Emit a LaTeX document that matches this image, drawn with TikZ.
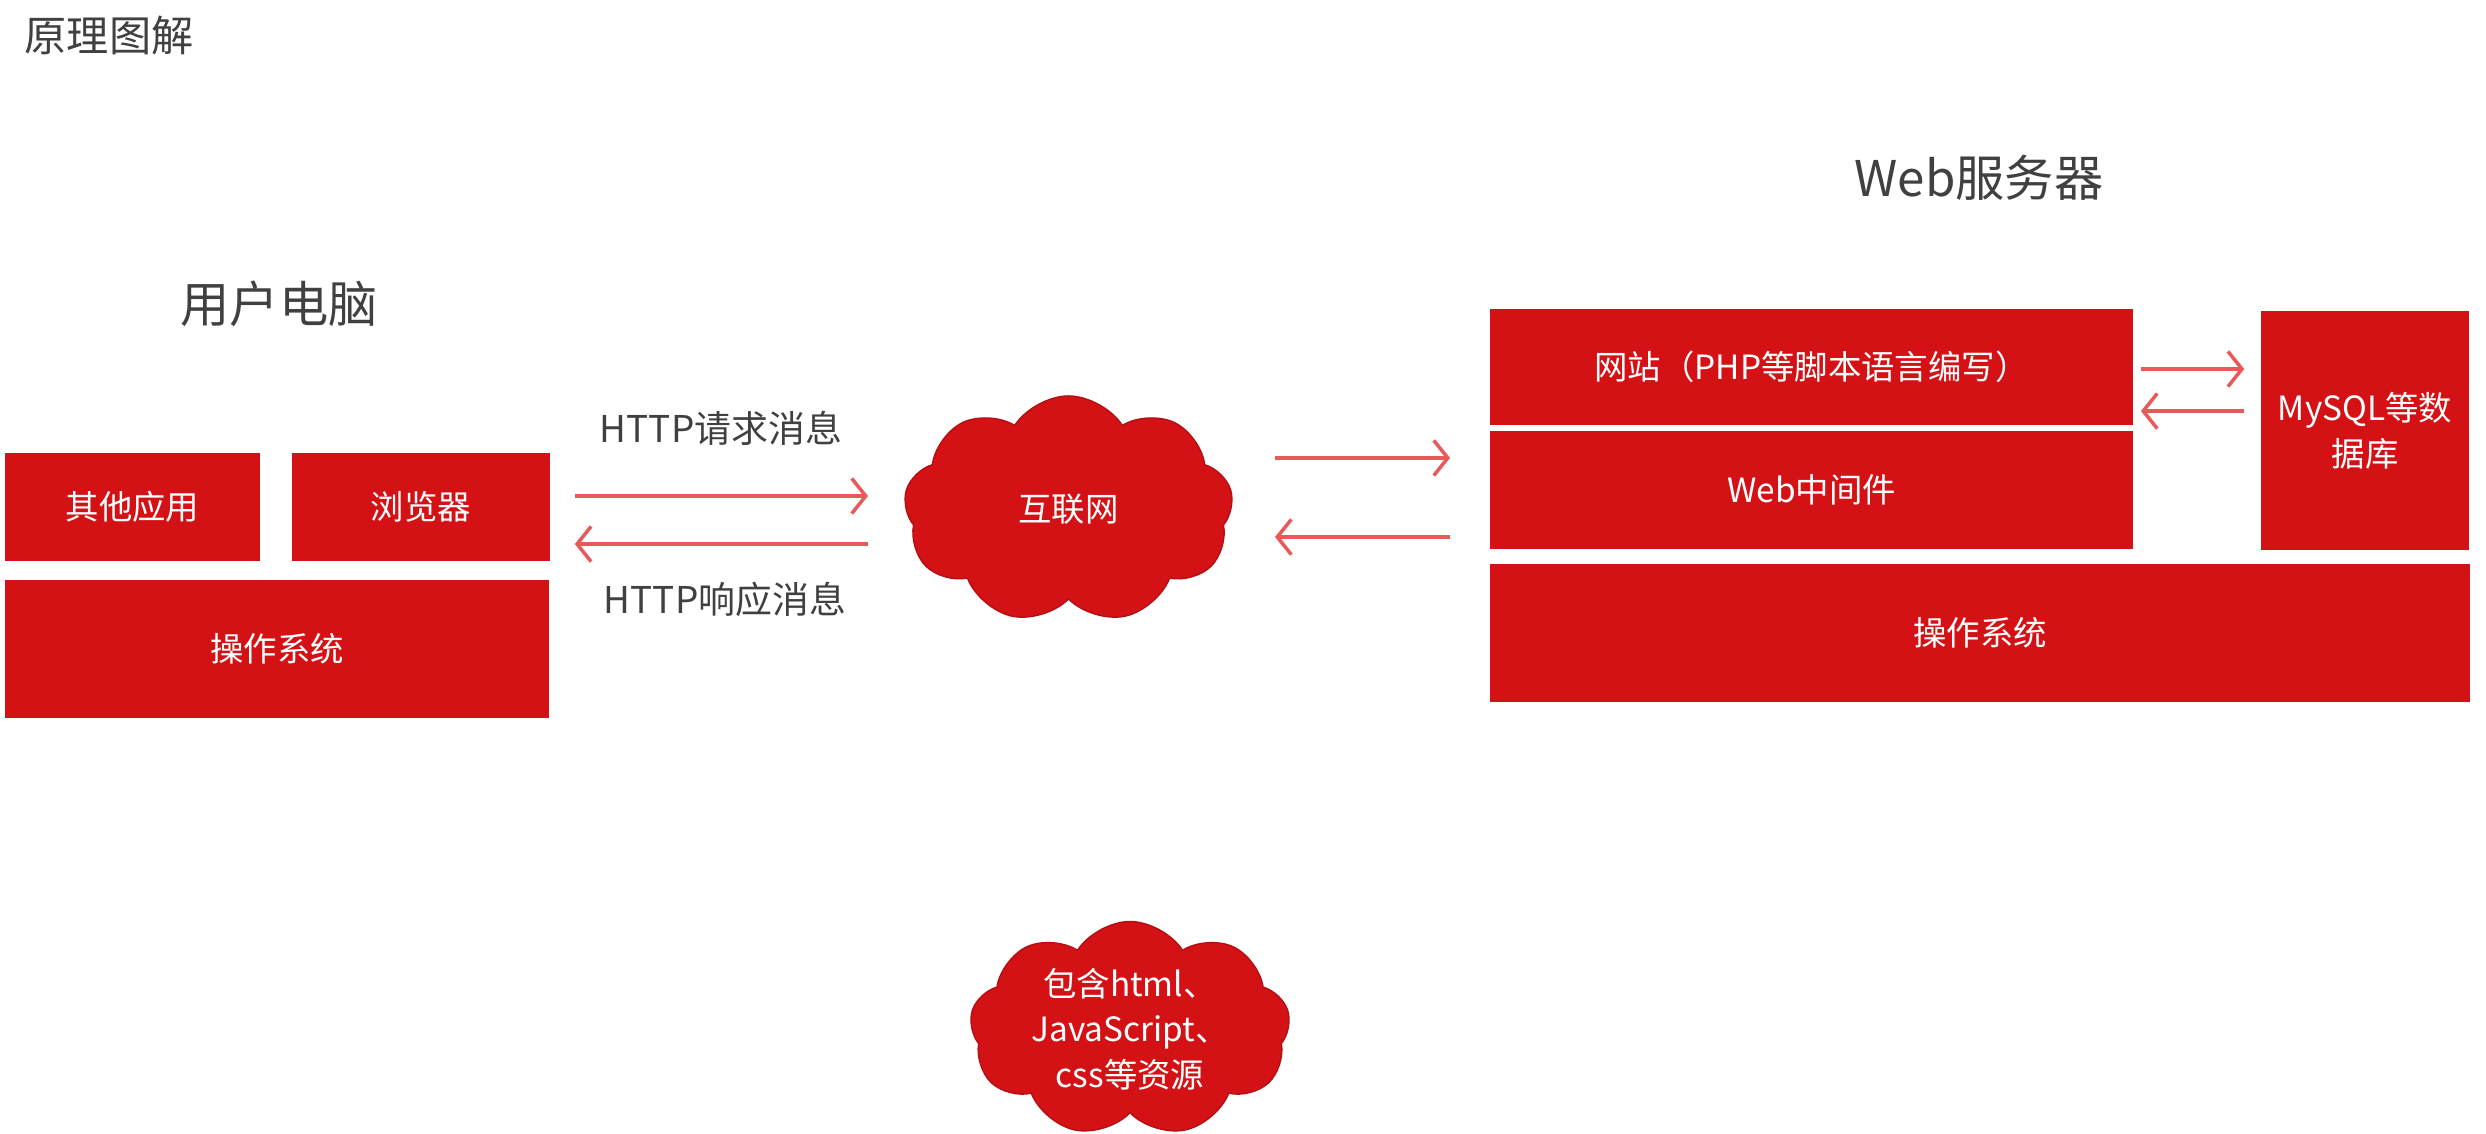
\documentclass[tikz,border=0pt]{standalone}
\usepackage{fontspec}
\setmainfont{Noto Sans CJK SC}
\usetikzlibrary{shapes.symbols,arrows.meta}
\definecolor{boxred}{RGB}{212,18,22}
\definecolor{arrowred}{RGB}{232,90,90}
\definecolor{inkgray}{RGB}{64,64,64}
\tikzset{
  box/.style={fill=boxred, text=white, inner sep=0pt, align=center, font=\fontsize{9.5}{13}\selectfont},
  puff/.style={cloud, cloud puffs=9, cloud puff arc=115, cloud ignores aspect, fill=boxred, draw=boxred!85!black,
    line width=0.4pt, text=white, inner sep=0pt, align=center, font=\fontsize{9.5}{13}\selectfont},
  flow/.style={draw=arrowred, line width=1pt, -{Straight Barb[length=4pt,width=10pt]}},
  caption/.style={text=inkgray, font=\fontsize{10.5}{13}\selectfont},
  heading/.style={text=inkgray, font=\fontsize{14}{16}\selectfont},
}
\begin{document}
\begin{tikzpicture}[x=0.01cm, y=-0.01cm]
    \useasboundingbox (0,0) rectangle (2486,1134);

    \node [text=inkgray, font=\fontsize{12}{14}\selectfont, anchor=west, inner sep=0pt] (title) at (24,36) {原理图解};

    % user side
    \node [heading] (pc) at (279,304) {用户电脑};
    \node [box, minimum width=2.55cm, minimum height=1.08cm] (other) at (132.5,507) {其他应用};
    \node [box, minimum width=2.58cm, minimum height=1.08cm] (browser) at (421,507) {浏览器};
    \node [box, minimum width=5.44cm, minimum height=1.38cm] (os1) at (277,649) {操作系统};

    % internet
    \node [puff, minimum width=3.29cm, minimum height=2.27cm] (inet) at (1068.5,509.5) {互联网};
    \node [caption] (req) at (721,428) {HTTP请求消息};
    \node [caption] (resp) at (725,599) {HTTP响应消息};

    % server side
    \node [heading] (server) at (1979,178) {Web服务器};
    \node [box, minimum width=6.43cm, minimum height=1.16cm] (site) at (1811.5,367) {网站（PHP等脚本语言编写）};
    \node [box, minimum width=6.43cm, minimum height=1.18cm] (mid) at (1811.5,490) {Web中间件};
    \node [box, minimum width=2.08cm, minimum height=2.39cm] (db) at (2365,430.5) {MySQL等数\\据库};
    \node [box, minimum width=9.80cm, minimum height=1.38cm] (os2) at (1980,633) {操作系统};

    \node [puff, minimum width=3.20cm, minimum height=1.94cm] (res) at (1130,1029) {包含html、\\JavaScript、\\css等资源};

    \draw [flow, shorten <=0.24cm, shorten >=0.37cm] ([yshift=0.11cm]browser.east) -- ([yshift=0.11cm]browser.east -| inet.west);
    \draw [flow, shorten <=0.37cm, shorten >=0.24cm] ([yshift=-0.37cm]browser.east -| inet.west) -- ([yshift=-0.37cm]browser.east);

    \draw [flow, shorten <=0.43cm, shorten >=0.39cm] ([yshift=0.515cm]inet.east) -- ([yshift=0.515cm]inet.east -| mid.west);
    \draw [flow, shorten <=0.39cm, shorten >=0.43cm] ([yshift=-0.275cm]inet.east -| mid.west) -- ([yshift=-0.275cm]inet.east);

    \draw [flow, shorten <=0.07cm, shorten >=0.16cm] ([yshift=-0.02cm]site.east) -- ([yshift=-0.02cm]site.east -| db.west);
    \draw [flow, shorten <=0.16cm, shorten >=0.07cm] ([yshift=-0.44cm]site.east -| db.west) -- ([yshift=-0.44cm]site.east);
\end{tikzpicture}
\end{document}
